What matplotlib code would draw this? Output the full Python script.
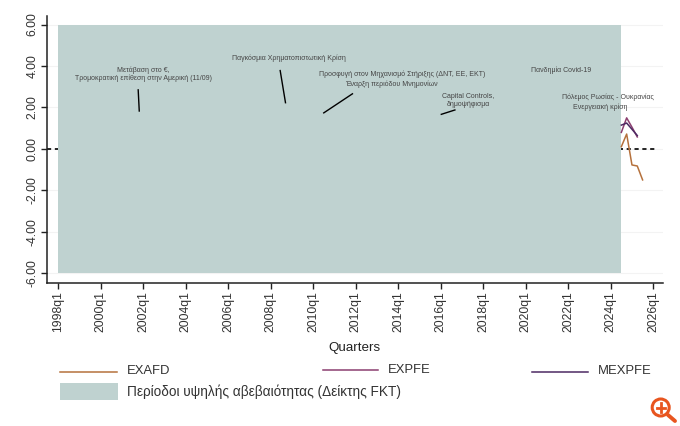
import numpy as np
import matplotlib
matplotlib.use("Agg")
import matplotlib.pyplot as plt
from matplotlib.lines import Line2D
from matplotlib.patches import Rectangle, Circle

plt.rcParams['font.family'] = ['Liberation Sans', 'DejaVu Sans']

W, H = 680, 426

# quarterly series, x given as (year, quarter)
quarters = [(2024, 3), (2024, 4), (2025, 1), (2025, 2), (2025, 3)]
exafd = [0.11, 0.72, -0.77, -0.82, -1.49]
expfe = [0.80, 1.50, 1.05, 0.58]
mexpfe = [1.15, 1.25, 0.95, 0.65]

shade_start = (1998, 1)
shade_end = (2024, 3)

year_ticks = list(range(1998, 2027, 2))
y_ticks = [-6, -4, -2, 0, 2, 4, 6]

events = [
    ("Μετάβαση στο €,", 2002.0, 3.80),
    ("Τρομοκρατική επίθεση στην Αμερική (11/09)", 2002.0, 3.40),
    ("Παγκόσμια Χρηματοπιστωτική Κρίση", 2008.85, 4.35),
    ("Προσφυγή στον Μηχανισμό Στήριξης (ΔΝΤ, ΕΕ, ΕΚΤ)", 2014.2, 3.60),
    ("Έναρξη περιόδου Μνημονίων", 2013.7, 3.10),
    ("Capital Controls,", 2017.3, 2.55),
    ("δημοψήφισμα", 2017.3, 2.15),
    ("Πανδημία Covid-19", 2021.65, 3.80),
    ("Πόλεμος Ρωσίας - Ουκρανίας", 2023.85, 2.50),
    ("Ενεργειακή κρίση", 2023.5, 2.00),
]
pointers = [
    ([2001.77, 2001.82], [2.85, 1.83]),
    ([2008.45, 2008.7], [3.78, 2.23]),
    ([2011.85, 2010.5], [2.66, 1.74]),
    ([2016.67, 2016.03], [1.88, 1.67]),
]


def qx(q):
    return q[0] + (q[1] - 1) / 4


fig = plt.figure(figsize=(W / 100, H / 100), dpi=100)
ax = fig.add_axes([47 / W, 1 - 283 / H, 616 / W, 267 / H])
ax.set_xlim(1997.48, 2026.46)
ax.set_ylim(-6.46, 6.41)

ax.grid(axis='y', color='#f3f3f3', lw=0.8)
ax.set_axisbelow(True)
ax.axhline(0, color='black', lw=1.2, ls=(0, (2.5, 2.2)), xmax=0.99, zorder=1)
shade_color = '#bfd2d0'
ax.fill_between([qx(shade_start), qx(shade_end)], -6, 6, color=shade_color, lw=0, zorder=2)

qs = [qx(q) for q in quarters]
ax.plot(qs, exafd, color='#b5713c', lw=1.1, zorder=3)
ax.plot(qs[:len(expfe)], expfe, color='#8c3f70', lw=1.1, zorder=3)
ax.plot(qs[:len(mexpfe)], mexpfe, color='#4d2a63', lw=1.1, zorder=3)

for text, x, y in events:
    ax.text(x, y, text, ha='center', va='center', fontsize=5, color='#444444', zorder=4)
for xs, ys in pointers:
    ax.plot(xs, ys, color='black', lw=1.0, zorder=4)

for side in ['top', 'right']:
    ax.spines[side].set_visible(False)
for side in ['left', 'bottom']:
    ax.spines[side].set_linewidth(1.1)
    ax.spines[side].set_color('#222222')

ax.set_xticks(year_ticks)
ax.set_xticklabels([f"{y}q1" for y in year_ticks], rotation=90, fontsize=8.7, color='#333333')
ax.set_yticks(y_ticks)
ax.set_yticklabels([f"{v:.2f}" for v in y_ticks], rotation=90, va='center', fontsize=8.7, color='#333333')
ax.tick_params(axis='x', length=4, width=1, color='#222222', pad=2)
ax.tick_params(axis='y', length=4, width=1, color='#222222', pad=2)

fig.text(354 / W, 1 - 348 / H, "Quarters", ha='center', va='center', fontsize=9.6, color='#222222')


# legend is laid out by hand in pixel positions
def px_line(x0, x1, y, color):
    fig.add_artist(Line2D([x0 / W, x1 / W], [1 - y / H, 1 - y / H], color=color, lw=1.1))


def px_text(x, y, s, size=9.4):
    fig.text(x / W, 1 - y / H, s, ha='left', va='center', fontsize=size, color='#333333')


px_line(60, 117, 371.5, '#b5713c')
px_text(127, 371.5, "EXAFD")
px_line(323, 378, 370, '#8c3f70')
px_text(388, 370, "EXPFE")
px_line(532, 588, 371.5, '#4d2a63')
px_text(598, 371.5, "MEXPFE")
fig.add_artist(Rectangle((60 / W, 1 - 399.5 / H), 58 / W, 16.5 / H, color=shade_color, lw=0))
px_text(127, 392, "Περίοδοι υψηλής αβεβαιότητας (Δείκτης FKT)", size=9.8)

# magnifier icon, bottom right corner
orange = '#e8551f'
icon = fig.add_axes([0, 0, 1, 1], facecolor='none')
icon.set_xlim(0, W)
icon.set_ylim(H, 0)
icon.axis('off')
icon.add_patch(Circle((660.7, 407.5), 8.5, fill=False, ec=orange, lw=2.2))
icon.plot([668, 675], [415, 421], color=orange, lw=2.8, solid_capstyle='round')
icon.plot([656.5, 665], [407.5, 407.5], color=orange, lw=2)
icon.plot([660.7, 660.7], [403.2, 411.8], color=orange, lw=2)

fig.savefig("out.png", dpi=100)
